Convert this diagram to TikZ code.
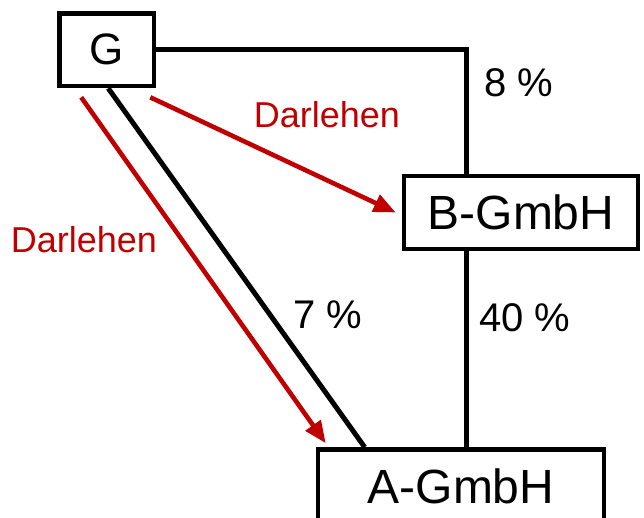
\documentclass[tikz,border=0pt]{standalone}
\usepackage{fontspec}
\setmainfont{Liberation Sans}
\usetikzlibrary{arrows.meta}
\definecolor{loanred}{RGB}{192,0,0}
\tikzset{
  entity/.style={draw, line width=2.3pt, fill=white, inner sep=0pt, font=\fontsize{24}{28}\selectfont},
  share/.style={line width=2.5pt},
  loan/.style={draw=loanred, line width=2.3pt, -{Triangle[length=11pt,width=9pt]}},
  pct/.style={font=\fontsize{20}{24}\selectfont},
  loanlabel/.style={text=loanred, font=\fontsize{18}{21}\selectfont}
}
\begin{document}
\begin{tikzpicture}[x=0.5pt, y=-0.5pt]
  \useasboundingbox (0,0) rectangle (644,518);
  \clip (0,0) rectangle (644,518);

  % Gesellschaften
  \node[entity, minimum width=47.25pt, minimum height=36.25pt, font=\fontsize{22}{26}\selectfont] (G) at (106.75,49.75) {G};
  \node[entity, minimum width=117pt, minimum height=36.5pt] (B) at (521,212.5) {B-GmbH};
  \node[entity, minimum width=143pt, minimum height=36.5pt] (A) at (461,486) {A-GmbH};

  \coordinate (trunk) at (466,0);

  % Beteiligungen
  \draw[share] (G.east) -| (B.north -| trunk);
  \draw[share] (B.south -| trunk) -- (A.north -| trunk);
  \draw[share] ([xshift=0.75pt]G.south) -- ([xshift=24.5pt]A.north west);

  \node[pct] (p8) at (519,83) {8 \%};
  \node[pct] (p40) at (525,318) {40 \%};
  \node[pct] (p7) at (328,315) {7 \%};

  % Darlehen
  \draw[loan] ([xshift=12pt, yshift=-4.5pt]G.south west) -- ([xshift=5pt, yshift=2pt]A.north west);
  \draw[loan] ([xshift=-3pt, yshift=-4.5pt]G.south east) -- ([xshift=-3pt]B.west);

  \node[loanlabel] (l1) at (327,115) {Darlehen};
  \node[loanlabel] (l2) at (84,240) {Darlehen};
\end{tikzpicture}
\end{document}
